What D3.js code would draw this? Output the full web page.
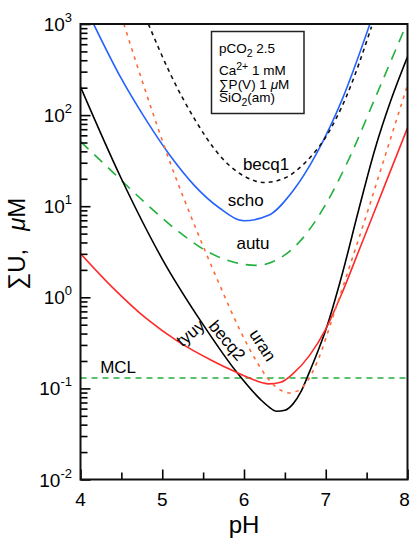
<!DOCTYPE html>
<html><head><meta charset="utf-8">
<script src="https://cdn.jsdelivr.net/npm/d3@7"></script>
<style>
body{margin:0;background:#fff}
svg{display:block;font-family:"Liberation Sans",Arial,Helvetica,sans-serif}
</style>
</head><body><svg id="c" width="411" height="540"></svg>
<script>
// ---- data (pH vs total dissolved U, µM) ----
const xMajor = [4, 5, 6, 7, 8];
const xMinor = [4.5, 5.5, 6.5, 7.5];
const yExps = [-2, -1, 0, 1, 2, 3];
const mcl = 0.13;

const phScho = [4.16, 4.5, 4.8, 5.1, 5.4, 5.7, 6.0, 6.3, 6.6, 6.9, 7.2, 7.54];
const uScho  = [1000, 251, 89.1, 35.5, 16.6, 9.55, 6.92, 7.94, 14.8, 39.8, 148, 1000];

const phBecq1 = [4.83, 5.1, 5.4, 5.7, 6.0, 6.25, 6.5, 6.75, 7.0, 7.25, 7.56];
const uBecq1  = [1000, 282, 89.1, 36.3, 21.4, 18.2, 20.4, 30.2, 57.5, 158, 933];

const phAutu = [4.0, 4.4, 4.8, 5.2, 5.6, 5.9, 6.15, 6.4, 6.7, 7.0, 7.3, 7.6, 7.98];
const uAutu  = [51.3, 23.4, 10.7, 5.25, 3.02, 2.4, 2.24, 2.57, 4.27, 10.5, 35.5, 151, 955];

const phBecq2 = [4.0, 4.5, 5.0, 5.5, 5.9, 6.2, 6.3, 6.4, 6.5, 6.6, 6.7, 6.8, 6.9, 7.0, 7.2, 7.4, 7.6, 7.8, 8.0];
const uBecq2  = [204, 20, 2.63, 0.501, 0.155, 0.0759, 0.0631, 0.0562, 0.0575, 0.0676, 0.0933, 0.151, 0.251, 0.437, 1.78, 8.91, 41.7, 148, 437];

const phTyuy = [4.0, 4.4, 4.8, 5.2, 5.6, 5.9, 6.1, 6.3, 6.45, 6.6, 6.8, 7.0, 7.2, 7.4, 7.7, 8.0];
const uTyuy  = [3.02, 1.26, 0.589, 0.324, 0.204, 0.151, 0.126, 0.112, 0.117, 0.145, 0.229, 0.447, 1.12, 3.16, 15.1, 72.4];

const phUran = [4.53, 4.8, 5.1, 5.4, 5.7, 5.95, 6.15, 6.3, 6.45, 6.55, 6.65, 6.75, 6.9, 7.1, 7.3, 7.5, 7.75, 8.0];
const uUran  = [1000, 178, 29.5, 6.03, 1.38, 0.437, 0.2, 0.126, 0.0955, 0.0891, 0.0933, 0.112, 0.2, 0.661, 2.29, 8.13, 41.7, 214];

const series = [
  {name:"scho",  ph:phScho,  u:uScho,  color:"#2563ff", dash:null},
  {name:"becq1", ph:phBecq1, u:uBecq1, color:"#111",    dash:"4,4"},
  {name:"autu",  ph:phAutu,  u:uAutu,  color:"#22b03c", dash:"11,8"},
  {name:"becq2", ph:phBecq2, u:uBecq2, color:"#000",    dash:null},
  {name:"tyuy",  ph:phTyuy,  u:uTyuy,  color:"#ff2a2a", dash:null},
  {name:"uran",  ph:phUran,  u:uUran,  color:"#ff6a3a", dash:"3.5,5"}
];

// label anchor points (pH, µM, rotation)
const labels = [
  {t:"becq1", ph:6.27, u:25,    rot:0},
  {t:"scho",  ph:6.02, u:10.1,  rot:0},
  {t:"autu",  ph:6.11, u:3.4,   rot:0},
  {t:"MCL",   ph:4.46, u:0.147, rot:0},
  {t:"tyuy",  ph:5.39, u:0.363, rot:-40},
  {t:"becq2", ph:5.74, u:0.305, rot:50},
  {t:"uran",  ph:6.17, u:0.275, rot:57}
];

// ---- layout ----
const L = 80.5, R = 407.5, T = 24, B = 479.5;
const svg = d3.select("#c");
const x = d3.scaleLinear().domain([4, 8]).range([L, R]);
const y = d3.scaleLog().domain([0.01, 1000]).range([B, T]);

svg.append("defs").append("clipPath").attr("id", "clip")
  .append("rect").attr("x", L).attr("y", T).attr("width", R - L).attr("height", B - T);

const plot = svg.append("g").attr("clip-path", "url(#clip)");

// MCL line
plot.append("line")
  .attr("x1", L).attr("x2", R).attr("y1", y(mcl)).attr("y2", y(mcl))
  .attr("stroke", "#22b03c").attr("stroke-width", 1.6).attr("stroke-dasharray", "6,5");

const line = d3.line().curve(d3.curveMonotoneX);
series.forEach(s => {
  const pts = s.ph.map((p, i) => [x(p), y(s.u[i])]);
  plot.append("path").attr("d", line(pts)).attr("fill", "none")
    .attr("stroke", s.color).attr("stroke-width", 1.6)
    .attr("stroke-dasharray", s.dash);
});

// ---- axes ----
const yMinor = [];
for (let e = -2; e < 3; e++) for (let k = 2; k <= 9; k++) yMinor.push(k * Math.pow(10, e));
const yMajorVals = yExps.map(e => Math.pow(10, e));

function ticks(axis, tr) {
  svg.append("g").attr("transform", tr).call(axis)
    .call(g => g.select(".domain").remove())
    .selectAll("line").attr("stroke", "#000").attr("stroke-width", 1.6);
}
ticks(d3.axisLeft(y).tickValues(yMinor).tickSize(-7).tickFormat("").tickSizeOuter(0), `translate(${L},0)`);
ticks(d3.axisLeft(y).tickValues(yMajorVals).tickSize(-10).tickFormat("").tickSizeOuter(0), `translate(${L},0)`);
ticks(d3.axisBottom(x).tickValues(xMinor).tickSize(-7).tickFormat("").tickSizeOuter(0), `translate(0,${B})`);
ticks(d3.axisBottom(x).tickValues(xMajor).tickSize(-10).tickFormat("").tickSizeOuter(0), `translate(0,${B})`);

// frame
svg.append("rect").attr("x", L).attr("y", T).attr("width", R - L).attr("height", B - T)
  .attr("fill", "none").attr("stroke", "#111").attr("stroke-width", 2);

// y tick labels
yExps.forEach(e => {
  const t = svg.append("text").attr("x", 72).attr("y", y(Math.pow(10, e)) + 7)
    .attr("text-anchor", "end").attr("font-size", 19).attr("fill", "#000");
  t.append("tspan").text("10");
  t.append("tspan").attr("dy", -9).attr("font-size", 13).text(e < 0 ? "-" + (-e) : String(e));
});

// x tick labels
xMajor.forEach(v => {
  svg.append("text").attr("x", Math.min(x(v), 404.5)).attr("y", 506).attr("text-anchor", "middle")
    .attr("font-size", 19).text(v);
});

// axis titles
svg.append("text").attr("x", (L + R) / 2).attr("y", 533).attr("text-anchor", "middle")
  .attr("font-size", 24).text("pH");

const yt = svg.append("text").attr("transform", `translate(25,${(T + B) / 2 - 8}) rotate(-90)`)
  .attr("text-anchor", "middle").attr("font-size", 24);
yt.append("tspan").text("\u2211U,");
yt.append("tspan").attr("dx", 18).attr("font-style", "italic").text("\u03bc");
yt.append("tspan").text("M");

// curve labels
labels.forEach(l => svg.append("text")
  .attr("transform", `translate(${x(l.ph)},${y(l.u)}) rotate(${l.rot})`)
  .attr("text-anchor", "middle").attr("font-size", 17).attr("fill", "#000").text(l.t));

// legend box
svg.append("rect").attr("x", 211.5).attr("y", 31.5).attr("width", 92.5).attr("height", 82)
  .attr("fill", "#fff").attr("stroke", "#222").attr("stroke-width", 1.5);
const lt = (yy) => svg.append("text").attr("x", 219).attr("y", yy).attr("font-size", 13.5);
let t1 = lt(53); t1.append("tspan").text("pCO"); t1.append("tspan").attr("dy", 4).attr("font-size", 10.5).text("2");
t1.append("tspan").attr("dy", -4).text(" 2.5");
let t2 = lt(74.5); t2.append("tspan").text("Ca"); t2.append("tspan").attr("dy", -5).attr("font-size", 10.5).text("2+");
t2.append("tspan").attr("dy", 5).text(" 1 mM");
let t3 = lt(88.5); t3.append("tspan").text("\u2211P(V) 1 "); t3.append("tspan").attr("font-style", "italic").text("\u03bc");
t3.append("tspan").text("M");
let t4 = lt(102); t4.append("tspan").text("SiO"); t4.append("tspan").attr("dy", 4).attr("font-size", 10.5).text("2");
t4.append("tspan").attr("dy", -4).text("(am)");
</script>
</body></html>
